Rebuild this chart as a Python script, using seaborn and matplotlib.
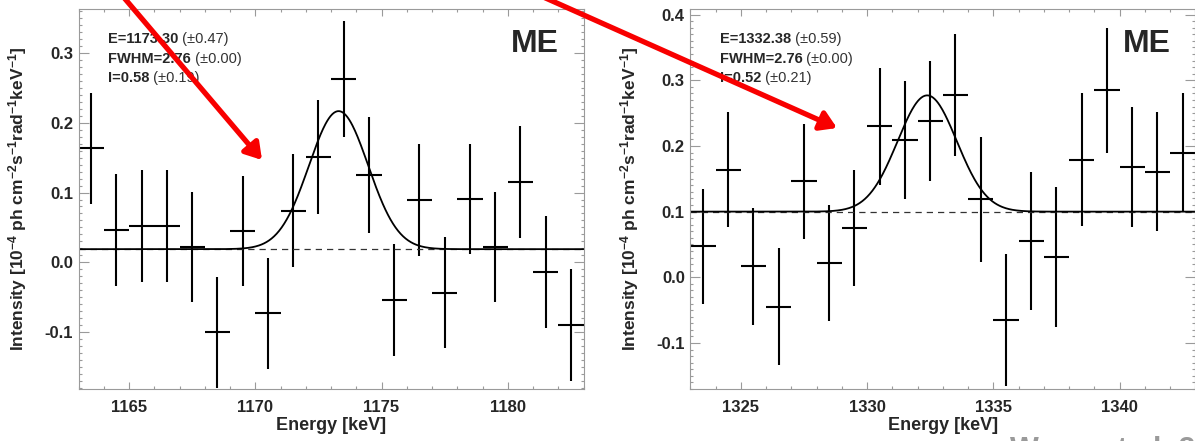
import numpy as np
import pandas as pd
import matplotlib
matplotlib.use("Agg")
import matplotlib.pyplot as plt
import seaborn as sns
from matplotlib.ticker import MultipleLocator

sns.set_theme(style="ticks")
plt.rcParams['font.family'] = ['Liberation Sans', 'DejaVu Sans']
plt.rcParams['mathtext.fontset'] = 'custom'
plt.rcParams['mathtext.bf'] = 'Liberation Sans:bold'
plt.rcParams['mathtext.rm'] = 'Liberation Sans:bold'
plt.rcParams['mathtext.default'] = 'bf'

# 1173 keV line (left panel)
left_energy = [1163.5, 1164.5, 1165.5, 1166.5, 1167.5, 1168.5, 1169.5, 1170.5, 1171.5, 1172.5,
               1173.5, 1174.5, 1175.5, 1176.5, 1177.5, 1178.5, 1179.5, 1180.5, 1181.5, 1182.5]
left_flux = [0.163, 0.047, 0.052, 0.052, 0.022, -0.100, 0.045, -0.073, 0.074, 0.151,
             0.262, 0.125, -0.054, 0.089, -0.043, 0.091, 0.022, 0.115, -0.014, -0.090]
left_err = [0.080, 0.080, 0.080, 0.080, 0.079, 0.079, 0.079, 0.080, 0.081, 0.082,
            0.083, 0.083, 0.080, 0.080, 0.080, 0.079, 0.079, 0.080, 0.080, 0.080]

# 1332 keV line (right panel)
right_energy = [1323.5, 1324.5, 1325.5, 1326.5, 1327.5, 1328.5, 1329.5, 1330.5, 1331.5, 1332.5,
                1333.5, 1334.5, 1335.5, 1336.5, 1337.5, 1338.5, 1339.5, 1340.5, 1341.5, 1342.5]
right_flux = [0.047, 0.164, 0.017, -0.045, 0.146, 0.022, 0.075, 0.230, 0.209, 0.238,
              0.277, 0.119, -0.065, 0.056, 0.031, 0.179, 0.285, 0.168, 0.161, 0.190]
right_err = [0.088, 0.088, 0.089, 0.089, 0.088, 0.088, 0.088, 0.089, 0.090, 0.091,
             0.093, 0.095, 0.100, 0.105, 0.107, 0.101, 0.095, 0.092, 0.090, 0.090]

# fit parameters: line energy, FWHM, integrated intensity, continuum level
left_fit = dict(E=1173.30, E_err=0.47, fwhm=2.76, fwhm_err=0.00, I=0.58, I_err=0.19, base=0.019)
right_fit = dict(E=1332.38, E_err=0.59, fwhm=2.76, fwhm_err=0.00, I=0.52, I_err=0.21, base=0.100)

fig = plt.figure(figsize=(11.95, 4.41), dpi=100)
ax1 = fig.add_axes([0.0657, 0.1179, 0.4226, 0.8610])
ax2 = fig.add_axes([0.5777, 0.1179, 0.4226, 0.8610])

frame = '#9a9a9a'


def panel(ax, energy, flux, err, fit, xlim, ylim, xmajor):
    ax.errorbar(energy, flux, xerr=0.5, yerr=err, fmt='none', ecolor='black',
                elinewidth=1.5, capsize=0)
    sigma = fit['fwhm'] / (2 * np.sqrt(2 * np.log(2)))
    amp = fit['I'] / (sigma * np.sqrt(2 * np.pi))
    xs = np.linspace(xlim[0], xlim[1], 600)
    model = pd.DataFrame({'x': xs,
                          'y': fit['base'] + amp * np.exp(-0.5 * ((xs - fit['E']) / sigma) ** 2)})
    ax.axhline(fit['base'], color='#333333', lw=0.9, ls=(0, (5, 4)))
    sns.lineplot(data=model, x='x', y='y', ax=ax, color='black', lw=1.3)
    ax.set_xlim(*xlim)
    ax.set_ylim(*ylim)
    ax.xaxis.set_major_locator(MultipleLocator(xmajor))
    ax.xaxis.set_minor_locator(MultipleLocator(1))
    ax.yaxis.set_major_locator(MultipleLocator(0.1))
    ax.yaxis.set_minor_locator(MultipleLocator(0.01))
    ax.yaxis.set_major_formatter(matplotlib.ticker.FormatStrFormatter('%.1f'))
    ax.tick_params(which='both', direction='in', top=True, right=True, color=frame, width=0.8)
    ax.tick_params(axis='x', which='major', length=5, pad=8, labelsize=12)
    ax.tick_params(axis='y', which='major', length=7, pad=4, labelsize=12)
    ax.tick_params(which='minor', length=2.5)
    for lab in ax.get_xticklabels() + ax.get_yticklabels():
        lab.set_fontweight('bold')
    for sp in ax.spines.values():
        sp.set_color(frame)
        sp.set_linewidth(0.8)
    ax.set_xlabel('Energy [keV]', fontsize=13, fontweight='bold')
    ax.set_ylabel(r'Intensity [10$^{-4}$ ph cm$^{-2}$s$^{-1}$rad$^{-1}$keV$^{-1}$]',
                  fontsize=12.5, fontweight='bold')
    ax.xaxis.set_label_coords(0.5, -0.074)
    ax.yaxis.set_label_coords(-0.098, 0.5)

    lines = [('E=%.2f' % fit['E'], '(\u00b1%.2f)' % fit['E_err']),
             ('FWHM=%.2f' % fit['fwhm'], '(\u00b1%.2f)' % fit['fwhm_err']),
             ('I=%.2f' % fit['I'], '(\u00b1%.2f)' % fit['I_err'])]
    for (bold, plain), yy in zip(lines, [0.912, 0.859, 0.809]):
        t = ax.text(0.058, yy, bold, transform=ax.transAxes, fontsize=10.5,
                    fontweight='bold', va='baseline', ha='left')
        ax.annotate(' ' + plain, xy=(1, 0), xycoords=t, va='bottom', ha='left',
                    fontsize=10.5, color='#333333')
    ax.text(0.952, 0.948, 'ME', transform=ax.transAxes, fontsize=23,
            fontweight='bold', ha='right', va='top')


panel(ax1, left_energy, left_flux, left_err, left_fit, (1163, 1183), (-0.181, 0.362), 5)
panel(ax2, right_energy, right_flux, right_err, right_fit, (1323, 1343), (-0.170, 0.408), 5)

# overlay for the slide annotations (pixel coordinates, origin at top-left)
ov = fig.add_axes([0, 0, 1, 1])
ov.set_xlim(0, 1195)
ov.set_ylim(441, 0)
ov.axis('off')
arrow = dict(arrowstyle='-|>,head_length=0.8,head_width=0.5', color='#f80000',
             lw=3.8, mutation_scale=12, shrinkA=0, shrinkB=0)
ov.annotate('', xy=(262, 160), xytext=(117.5, -10), arrowprops=arrow, annotation_clip=False)
ov.annotate('', xy=(837, 128), xytext=(527.6, -10), arrowprops=arrow, annotation_clip=False)
ov.text(1010, 436, 'Wang et al. 2020', fontsize=22, fontweight='bold', color='#9a9a9a',
        ha='left', va='top')

fig.savefig('out.png', dpi=100)
